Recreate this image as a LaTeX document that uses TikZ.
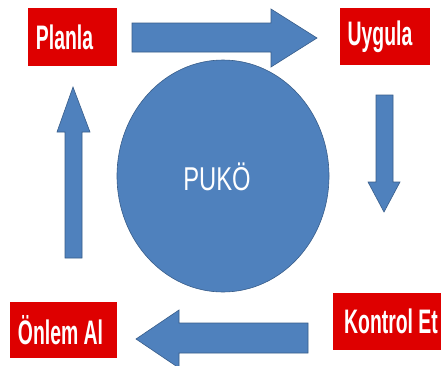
\documentclass[tikz,border=0pt]{standalone}
\usepackage{fontspec}
\usetikzlibrary{shapes.geometric}
\newfontfamily\boxfont[FakeStretch=0.57]{Liberation Sans}
\newfontfamily\pukofont[FakeStretch=0.72]{Liberation Sans}
\definecolor{pukoblue}{RGB}{79,129,189}
\definecolor{pukoedge}{RGB}{56,93,138}
\definecolor{pukored}{RGB}{222,0,0}
\tikzset{
	stepbox/.style={fill=pukored, text=white, inner sep=0pt,
		font=\boxfont\bfseries\fontsize{34}{40}\selectfont},
	blockarrow/.style={fill=pukoblue, draw=pukoedge, line width=0.6pt, line join=miter}
}
\begin{document}
\begin{tikzpicture}[x=1pt, y=-1pt]
		\useasboundingbox (0,0) rectangle (441,365);
		\clip (0,0) rectangle (441,365);
		\fill[white] (0,0) rectangle (441,365);
		% steps
		\node[stepbox, minimum width=89, minimum height=58] (plan) at (72.5,37) {Planla\kern16pt};
		\node[stepbox, minimum width=90, minimum height=57] (uygula) at (385,36.5) {Uygula\kern10pt};
		\node[stepbox, minimum width=116, minimum height=57] (kontrol) at (391,321.5) {Kontrol Et};
		\node[stepbox, minimum width=107, minimum height=56] (onlem) at (63.5,330) {Önlem Al\kern6pt};
		% center
		\node[ellipse, fill=pukoblue, draw=pukoedge, line width=0.6pt,
			minimum width=212, minimum height=232] (puko) at (223,176) {};
		\node[text=white, font=\pukofont\fontsize{33}{40}\selectfont] (pukotext) at (217,177) {PUKÖ};
		% Planla -> Uygula
		\filldraw[blockarrow] (132,23) -- (271,23) -- (271,9) -- (317,38) -- (271,67) -- (271,52) -- (132,52) -- cycle;
		% Uygula -> Kontrol Et
		\filldraw[blockarrow] (376,95) -- (393,95) -- (393,182) -- (400,182) -- (384,212) -- (368,182) -- (376,182) -- cycle;
		% Kontrol Et -> Onlem Al
		\filldraw[blockarrow] (308,323) -- (179,323) -- (179,310) -- (136,339) -- (179,368) -- (179,353) -- (308,353) -- cycle;
		% Onlem Al -> Planla
		\filldraw[blockarrow] (65,258) -- (65,132) -- (57,132) -- (73,87) -- (90,132) -- (82,132) -- (82,258) -- cycle;
\end{tikzpicture}
\end{document}
